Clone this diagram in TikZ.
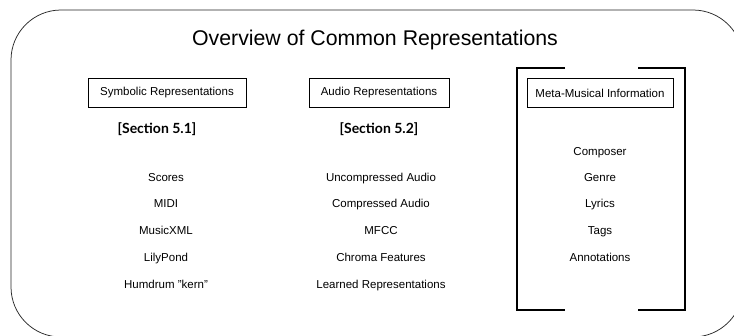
\documentclass[tikz,border=0pt]{standalone}
\usepackage{fontspec}
\setmainfont{Liberation Sans}
\newfontfamily\secfont{Lato}
\usepackage{tikz}
\usetikzlibrary{positioning}

\tikzset{
  headbox/.style={draw=black, line width=0.8pt, minimum height=29pt, inner sep=0pt, font=\fontsize{11.5}{13}\selectfont},
  item/.style={font=\fontsize{11.5}{13}\selectfont, inner sep=1pt, text height=8.5pt, text depth=2.5pt},
  seclabel/.style={font=\secfont\bfseries\fontsize{14}{16}\selectfont, inner sep=1pt, text height=10.5pt, text depth=3pt},
  bracket/.style={line width=1.6pt, black}
}

\begin{document}
\begin{tikzpicture}[x=1pt, y=-1pt]
				\useasboundingbox (0,0) rectangle (734,335);
				\clip (0,0) rectangle (734,335);
				\draw [black!85, line width=0.75pt, rounded corners=50pt] (11,10) rectangle (743,337);
				\node (title) [font=\fontsize{21.3}{25}\selectfont] at (375,40) {Overview of Common Representations};

				\node (symb) [headbox, minimum width=158pt] at (167,93) {Symbolic Representations};
				\node (audio) [headbox, minimum width=140pt] at (379,93) {Audio Representations};
				\node (meta) [headbox, minimum width=146pt] at (600,93) {Meta-Musical Information};

				\node (sec1) [seclabel] at (157,130) {[Section 5.1]};
				\node (sec2) [seclabel] at (379,130) {[Section 5.2]};

				\node (scores) [item] at (166,178) {Scores};
				\node (midi) [item] at (166,204) {MIDI};
				\node (musicxml) [item] at (166,231) {MusicXML};
				\node (lilypond) [item] at (166,258) {LilyPond};
				\node (humdrum) [item] at (166,285) {Humdrum "kern"};

				\node (uncomp) [item] at (381,178) {Uncompressed Audio};
				\node (comp) [item] at (381,204) {Compressed Audio};
				\node (mfcc) [item] at (381,231) {MFCC};
				\node (chroma) [item] at (381,258) {Chroma Features};
				\node (learned) [item] at (381,285) {Learned Representations};

				\node (composer) [item] at (600,152) {Composer};
				\node (genre) [item] at (600,178) {Genre};
				\node (lyrics) [item] at (600,204) {Lyrics};
				\node (tags) [item] at (600,231) {Tags};
				\node (annot) [item] at (600,258) {Annotations};

				\draw [bracket] (565,68)--(517,68)--(517,310)--(565,310);
				\draw [bracket] (638,68)--(685,68)--(685,310)--(638,310);

			\end{tikzpicture}
\end{document}
